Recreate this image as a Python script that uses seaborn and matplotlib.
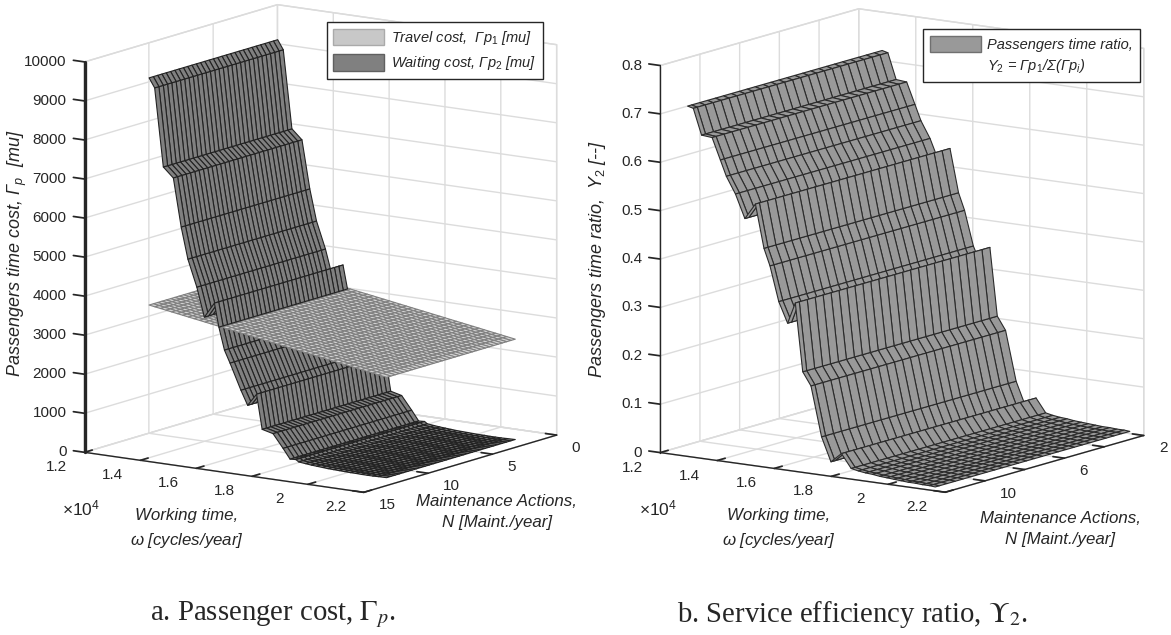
import numpy as np
import seaborn as sns
import matplotlib.pyplot as plt
from matplotlib.patches import Patch
from mpl_toolkits.mplot3d import proj3d

# panel a: waiting cost per working time row, same along N
working_a = [13390, 13590, 13900, 14260, 14540, 14780, 15100, 15370, 15730, 15890,
             16090, 16290, 16680, 16920, 17240, 17440, 17830, 18190, 18440, 18650,
             18750, 19000, 19200, 19400, 19600, 19800, 20000, 20200, 20400, 20600,
             20800, 21000, 21200, 21400, 21600, 21900]
waiting_cost = [9538, 9302, 7308, 7062, 5836, 5038, 4354, 3613, 4008, 3410,
                2841, 2528, 1874, 1513, 1830, 950, 880, 540, 290, 300,
                250, 230, 215, 205, 195, 185, 180, 175, 170, 165,
                165, 160, 160, 160, 165, 170]
maint_a = [3.0, 3.33, 3.67, 4.0, 4.33, 4.67, 5.0, 5.33, 5.67, 6.0, 6.33, 6.67, 7.0, 7.33, 7.67, 8.0,
           8.33, 8.67, 9.0, 9.33, 9.67, 10.0, 10.33, 10.67, 11.0, 11.33, 11.67, 12.0, 12.33, 12.67, 13.0]

# travel cost plane, finer rows
working_plane = [13390, 13600, 13800, 14000, 14200, 14400, 14600, 14800, 15000, 15200, 15400,
                 15600, 15800, 16000, 16200, 16400, 16600, 16800, 17000, 17200, 17400, 17600,
                 17800, 18000, 18200, 18400, 18600, 18800, 19000, 19200, 19400, 19600, 19800,
                 20000, 20200, 20400, 20600, 20800, 21000, 21200, 21400, 21600, 21900]
travel_cost = [3720, 3695, 3672, 3649, 3626, 3603, 3580, 3557, 3534, 3511, 3488,
               3465, 3442, 3419, 3396, 3373, 3350, 3327, 3304, 3281, 3258, 3235,
               3212, 3189, 3166, 3143, 3120, 3097, 3074, 3051, 3028, 3005, 2982,
               2959, 2936, 2913, 2890, 2867, 2844, 2821, 2798, 2775, 2740]

# panel b: passengers time ratio
working_b = [12960, 13160, 13450, 13820, 14110, 14320, 14640, 14970, 15340, 15640,
             15850, 16160, 16470, 16740, 17000, 17290, 17660, 17990, 18360, 18700,
             18950, 19200, 19450, 19700, 19950, 20200, 20450, 20700, 20950, 21200, 21450, 21650]
time_ratio = [0.724, 0.721, 0.668, 0.666, 0.622, 0.590, 0.556, 0.508, 0.541, 0.452,
              0.4175, 0.346, 0.304, 0.348, 0.208, 0.181, 0.079, 0.030, 0.050, 0.022,
              0.019, 0.017, 0.016, 0.014, 0.013, 0.012, 0.011, 0.010, 0.010, 0.009, 0.009, 0.008]
maint_b = [2.2, 2.6, 3.0, 3.4, 3.8, 4.2, 4.6, 5.0, 5.4, 5.8, 6.2, 6.6, 7.0,
           7.4, 7.8, 8.2, 8.6, 9.0, 9.4, 9.8, 10.2, 10.6, 11.0, 11.4, 11.8, 12.0]

w_ticks = [12000, 14000, 16000, 18000, 20000, 22000]
w_labels = ['1.2', '1.4', '1.6', '1.8', '2', '2.2']
n_ticks_a = [0, 5, 10, 15]
n_labels_a = ['0', '5', '10', '15']
n_ticks_b = [2, 4, 6, 8, 10, 12]
n_labels_b = ['2', '', '6', '', '10', '']
z_ticks_a = [0, 1000, 2000, 3000, 4000, 5000, 6000, 7000, 8000, 9000, 10000]
z_labels_a = ['0', '1000', '2000', '3000', '4000', '5000', '6000', '7000', '8000', '9000', '10000']
z_ticks_b = [0, 0.1, 0.2, 0.3, 0.4, 0.5, 0.6, 0.7, 0.8]
z_labels_b = ['0', '0.1', '0.2', '0.3', '0.4', '0.5', '0.6', '0.7', '0.8']

sns.set_theme(style='white', font='Liberation Sans', rc={
    'mathtext.fontset': 'custom',
    'mathtext.rm': 'Liberation Sans',
    'mathtext.it': 'Liberation Sans:italic',
    'mathtext.bf': 'Liberation Sans:bold',
})

FIG_W, FIG_H = 1171, 635
fig = plt.figure(figsize=(FIG_W / 100, FIG_H / 100), dpi=100, facecolor='white')


def make_axes(elev, azim, box, center):
    # square axes sized so the ortho box comes out at the wanted pixel size
    norm = np.linalg.norm(box)
    side = norm * 1.85 / (1.8294640721620434 * 25 / 24)
    left = center[0] - side * 0.95 / 1.85
    bottom = (FIG_H - center[1]) - side * 0.95 / 1.85
    ax = fig.add_axes([left / FIG_W, bottom / FIG_H, side / FIG_W, side / FIG_H],
                      projection='3d', computed_zorder=False)
    ax.set_proj_type('ortho')
    ax.set_box_aspect(box)
    ax.view_init(elev=elev, azim=azim)
    ax.set_facecolor('none')
    return ax


def style_axes(ax, z_width):
    for axis in (ax.xaxis, ax.yaxis, ax.zaxis):
        axis.set_pane_color((1, 1, 1, 1))
        axis.pane.set_edgecolor('#d9d9d9')
        axis.pane.set_linewidth(1.0)
        axis._axinfo['grid'].update(color='#dcdcdc', linewidth=1.0)
        axis._axinfo['tick'].update(inward_factor=0.0, outward_factor=0.5)
        axis.line.set_color('#262626')
        axis.line.set_linewidth(1.0)
    ax.zaxis.line.set_linewidth(z_width)
    ax.zaxis._axinfo['juggled'] = (1, 2, 0)


def surface(ax, w, n, values, face, edge, lw, zorder):
    X, Y = np.meshgrid(w, n, indexing='ij')
    Z = np.tile(np.array(values)[:, None], (1, len(n)))
    ax.plot_surface(X, Y, Z, rstride=1, cstride=1, color=face, edgecolor=edge,
                    linewidth=lw, shade=False, zorder=zorder)


def fig_text(x, y, s, **kw):
    fig.text(x / FIG_W, 1 - y / FIG_H, s, ha='center', va='center', color='#262626', **kw)


def tick_text(ax, pos, label, dx, dy, ha):
    # tick labels sit at a fixed pixel offset from their tick, as in MATLAB
    x2, y2, _ = proj3d.proj_transform(pos[0], pos[1], pos[2], ax.get_proj())
    ax.annotate(label, (x2, y2), xytext=(dx, dy), textcoords='offset pixels', ha=ha, va='center',
                fontsize=11, color='#262626', annotation_clip=False)


def put_ticks(ax, x_ticks, x_labels, y_ticks, y_labels, z_ticks, z_labels):
    xmin, ymin_front, zmin = ax.get_xlim()[0], ax.get_ylim()[0], ax.get_zlim()[0]
    ax.set_xticks(x_ticks, [''] * len(x_ticks))
    ax.set_yticks(y_ticks, [''] * len(y_ticks))
    ax.set_zticks(z_ticks, [''] * len(z_ticks))
    for v, s in zip(x_ticks, x_labels):
        tick_text(ax, (v, ymin_front, zmin), s, -28, -15, 'center')
    for v, s in zip(y_ticks, y_labels):
        tick_text(ax, (ax.get_xlim()[1], v, zmin), s, 15, -13, 'left')
    for v, s in zip(z_ticks, z_labels):
        tick_text(ax, (xmin, ymin_front, v), s, -18, 0, 'right')


# panel a
ax_a = make_axes(11.9, -55.2, (340, 338, 399), (320.6, 248.5))
ax_a.set_xlim(12000, 22000, view_margin=0)
ax_a.set_ylim(15, 0, view_margin=0)
ax_a.set_zlim(0, 10000, view_margin=0)
split = 10
surface(ax_a, working_a[split - 1:], maint_a, waiting_cost[split - 1:], '#808080', '#222222', 0.8, 1)
surface(ax_a, working_plane, maint_a, travel_cost, '#d2d2d2', '#808080', 0.8, 2)
surface(ax_a, working_a[:split], maint_a, waiting_cost[:split], '#808080', '#222222', 0.8, 3)
put_ticks(ax_a, w_ticks, w_labels, n_ticks_a, n_labels_a, z_ticks_a, z_labels_a)
style_axes(ax_a, 2.4)

# panel b
ax_b = make_axes(11.5, -55.1, (347.5, 347, 395), (902, 250.5))
ax_b.set_xlim(12000, 22000, view_margin=0)
ax_b.set_ylim(12, 2, view_margin=0)
ax_b.set_zlim(0, 0.8, view_margin=0)
surface(ax_b, working_b, maint_b, time_ratio, '#999999', '#2b2b2b', 0.8, 1)
put_ticks(ax_b, w_ticks, w_labels, n_ticks_b, n_labels_b, z_ticks_b, z_labels_b)
style_axes(ax_b, 1.0)

# axis labels
lab = dict(fontsize=12.2, style='italic')
fig_text(187, 529, 'Working time,\n$\\omega$ [cycles/year]', linespacing=1.55, **lab)
fig_text(497, 512, 'Maintenance Actions,\nN [Maint./year]', linespacing=1.55, **lab)
fig_text(17, 253, 'Passengers time cost, Γ$_{\\mathit{p}}$  [mu]', rotation=90, fontsize=13, style='italic')
fig_text(779, 529, 'Working time,\n$\\omega$ [cycles/year]', linespacing=1.55, **lab)
fig_text(1060, 529, 'Maintenance Actions,\nN [Maint./year]', linespacing=1.55, **lab)
fig_text(598, 259, 'Passengers time ratio,  Υ$_{\\mathit{2}}$ [--]', rotation=90, fontsize=13, style='italic')
fig_text(81, 508, '$\\times$10$^{4}$', fontsize=12.5)
fig_text(658, 508, '$\\times$10$^{4}$', fontsize=12.5)

# captions
cap = dict(fontsize=20.7, family='Liberation Serif', math_fontfamily='stix')
fig_text(273.5, 615, 'a. Passenger cost, $\\Gamma_p$.', **cap)
fig_text(853, 614, 'b. Service efficiency ratio, $\\mathit{\\Upsilon}_2$.', **cap)

# legends
leg_font = {'family': 'Liberation Sans', 'style': 'italic', 'size': 10.5}
leg_kw = dict(prop=leg_font, fancybox=False, framealpha=1, edgecolor='#262626', borderaxespad=0,
              handlelength=3.5, handleheight=1.4, handletextpad=0.45, borderpad=0.45)
leg = fig.legend(handles=[Patch(facecolor='#c8c8c8', edgecolor='#aaaaaa', label='Travel cost,  Γp$_{\\mathit{1}}$ [mu]'),
                          Patch(facecolor='#808080', edgecolor='#606060', label='Waiting cost, Γp$_{\\mathit{2}}$ [mu]')],
                 loc='upper left', bbox_to_anchor=(326.6 / FIG_W, 1 - 22 / FIG_H), labelspacing=0.5, **leg_kw)
leg.get_frame().set_linewidth(1.0)
leg = fig.legend(handles=[Patch(facecolor='#999999', edgecolor='#707070', label='Passengers time ratio,'),
                          Patch(facecolor='none', edgecolor='none',
                                label='Υ$_{\\mathit{2}}$ = Γp$_{\\mathit{1}}$/Σ(Γp$_{\\mathit{i}}$)')],
                 loc='upper left', bbox_to_anchor=(923 / FIG_W, 1 - 29 / FIG_H), labelspacing=0.3, **leg_kw)
leg.get_frame().set_linewidth(1.0)

fig.savefig('out.png', dpi=100, facecolor='white')
